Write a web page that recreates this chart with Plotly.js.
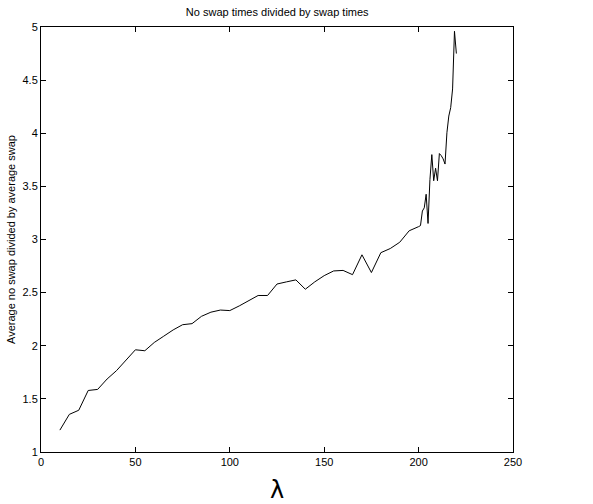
<!DOCTYPE html>
<html>
<head>
<meta charset="utf-8">
<script src="https://cdn.plot.ly/plotly-3.0.1.min.js"></script>
<style>html,body{margin:0;padding:0;background:#fff;}#chart{width:593px;height:504px;}</style>
</head>
<body>
<div id="chart"></div>
<script>
const lambdaValues = [10,15,20,25,30,35,40,45,50,55,60,65,70,75,80,85,90,95,100,105,110,115,120,125,130,135,140,145,150,155,160,165,170,175,180,185,190,195,200,201,202,203,204,205,206,207,208,209,210,211,212,213,214,215,216,217,218,219,220];
const ratioValues = [1.206,1.354,1.393,1.579,1.589,1.687,1.766,1.864,1.962,1.953,2.031,2.090,2.149,2.198,2.208,2.277,2.316,2.336,2.331,2.375,2.424,2.473,2.473,2.581,2.601,2.620,2.532,2.601,2.660,2.704,2.709,2.669,2.856,2.689,2.876,2.915,2.974,3.082,3.121,3.131,3.268,3.298,3.426,3.151,3.563,3.799,3.553,3.671,3.553,3.809,3.789,3.759,3.710,4.005,4.162,4.241,4.417,4.96,4.75];
const xTicks = [0,50,100,150,200,250];
const yTicks = [1,1.5,2,2.5,3,3.5,4,4.5,5];
const yTickText = ['1','1.5','2','2.5','3','3.5','4','4.5','5'];

const font = {family: 'Liberation Sans, Arial, sans-serif', size: 11, color: '#000'};
const axisCommon = {
  showline: true, linecolor: '#000', linewidth: 1, mirror: 'ticks',
  ticks: 'inside', ticklen: 5, tickcolor: '#000', tickwidth: 1,
  showgrid: false, zeroline: false, tickfont: font
};
Plotly.newPlot('chart', [{
  x: lambdaValues, y: ratioValues, type: 'scatter', mode: 'lines',
  line: {color: '#000', width: 1}, hoverinfo: 'none'
}], {
  width: 593, height: 504,
  margin: {l: 41, r: 80, t: 27, b: 52, pad: 0},
  paper_bgcolor: '#fff', plot_bgcolor: '#fff',
  showlegend: false,
  font: font,
  title: {text: 'No swap times divided by swap times', font: {family: font.family, size: 11, color: '#000'}, x: 0.4675, xanchor: 'center', y: 0.976, yanchor: 'middle'},
  xaxis: Object.assign({}, axisCommon, {range: [0, 250], tickvals: xTicks, ticktext: xTicks.map(String),
    title: {text: 'λ', font: {family: 'DejaVu Sans, sans-serif', size: 24, color: '#000'}, standoff: 18}}),
  yaxis: Object.assign({}, axisCommon, {range: [1, 5], tickvals: yTicks, ticktext: yTickText,
    title: {text: 'Average no swap divided by average swap', font: {family: font.family, size: 11, color: '#000'}, standoff: 4}})
}, {displayModeBar: false, staticPlot: true});
</script>
</body>
</html>
